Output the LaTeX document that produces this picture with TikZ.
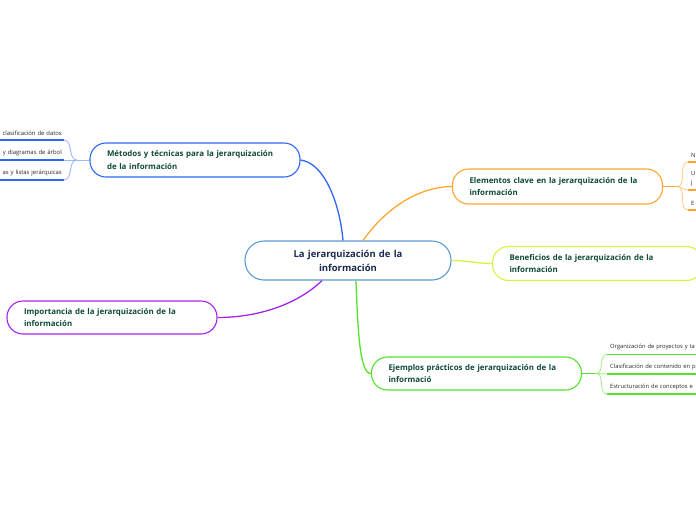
\documentclass[tikz,border=0pt]{standalone}
\usepackage{fontspec}
\setmainfont{Open Sans}
\definecolor{cblue}{HTML}{5B9BD5}
\definecolor{mblue}{HTML}{2F66F5}
\definecolor{lblue}{HTML}{9DB8FA}
\definecolor{corange}{HTML}{FFA630}
\definecolor{lorange}{HTML}{FFD08A}
\definecolor{cyell}{HTML}{D8F33C}
\definecolor{cpurp}{HTML}{A624EE}
\definecolor{cgreen}{HTML}{55E22A}
\definecolor{lgreen}{HTML}{A9F08C}
\definecolor{tgreen}{HTML}{0F4A3A}
\definecolor{tnavy}{HTML}{1B2A4E}
\tikzset{
  topic/.style={draw, rounded corners=16pt, fill=white, line width=1.1pt,
    font=\fontsize{7.9}{12.8}\selectfont\bfseries, text=tgreen, align=left,
    inner xsep=17pt, inner ysep=2pt, text width=176pt, minimum height=34pt},
  central/.style={draw=cblue, rounded corners=19pt, fill=white, line width=1.1pt,
    font=\fontsize{9.5}{14}\selectfont\bfseries, text=tnavy, align=center,
    inner xsep=10pt, text width=186pt, minimum height=39pt},
  leafl/.style={font=\fontsize{5.9}{8.5}\selectfont, text=black!85, align=right,
    inner xsep=2pt, inner ysep=4pt, text width=90pt},
  leafr/.style={font=\fontsize{5.8}{8.5}\selectfont, text=black!85, align=left,
    inner xsep=3pt, inner ysep=4pt, text width=100pt},
  conn/.style={line width=1.3pt},
  uline/.style={line width=1.6pt},
  twig/.style={line width=0.9pt},
}
\begin{document}
\begin{tikzpicture}[x=1pt,y=-1pt]
\useasboundingbox (0,0) rectangle (696,520);
\clip (0,0) rectangle (696,520);
% main nodes
\node[central] (c) at (348,260.5) {La jerarquización de la\\información};
\node[topic, draw=mblue] (m) at (195,160) {Métodos y técnicas para la jerarquización\\de la información};
\node[topic, draw=corange, minimum height=35pt] (e) at (557.5,186.5) {Elementos clave en la jerarquización de la\\información};
\node[topic, draw=cyell, anchor=west] (b) at (492,263.5) {Beneficios de la jerarquización de la\\información};
\node[topic, draw=cpurp, minimum height=33pt] (i) at (112,317.5) {Importancia de la jerarquización de la\\información};
\node[topic, draw=cgreen, minimum height=33pt] (j) at (476.5,373.5) {Ejemplos prácticos de jerarquización de la\\informació};
% main connectors
\draw[conn, mblue] (m.east) .. controls (325,163) and (340,205) .. ([xshift=-5pt]c.north);
\draw[conn, corange] ([xshift=15pt]c.north) .. controls (383,212) and (415,187) .. (e.west);
\draw[conn, cyell] (c.east) to[out=0,in=180] (b.west);
\draw[conn, cpurp] ([xshift=-26pt]c.south) .. controls (300,302) and (262,317.5) .. (i.east);
\draw[conn, cgreen] ([xshift=8pt]c.south) .. controls (358,335) and (360,373.5) .. (j.west);
% left leaves (Métodos)
\node[leafl, anchor=south east] (l1) at (64,140) {clasificación de datos};
\node[leafl, anchor=south east] (l2) at (64,160) {y diagramas de árbol};
\node[leafl, anchor=south east] (l3) at (64,180) {as y listas jerárquicas};
\coordinate (mb) at (77,160);
\draw[twig, lblue] (m.west) -- (mb);
\draw[twig, lblue] (mb) to[out=180,in=0] (l1.south east);
\draw[twig, lblue] (mb) -- (l2.south east);
\draw[twig, lblue] (mb) to[out=180,in=0] (l3.south east);
\foreach \n in {l1,l2,l3} \draw[uline, mblue] (\n.south west) -- (\n.south east);
% right leaves (Elementos)
\node[leafr, anchor=south west] (r1) at (688,162) {N};
\node[leafr, anchor=south west] (r2) at (688,190) {U\\j};
\node[leafr, anchor=south west] (r3) at (688,210) {E};
\coordinate (eb) at (677,186.5);
\draw[twig, corange] (e.east) -- (eb);
\draw[twig, lorange] (eb) to[out=0,in=180] (r1.south west);
\draw[twig, lorange] (eb) to[out=0,in=180] (r2.south west);
\draw[twig, lorange] (eb) to[out=0,in=180] (r3.south west);
\foreach \n in {r1,r2,r3} \draw[uline, corange] (\n.south west) -- (\n.south east);
% right leaves (Ejemplos)
\node[leafr, anchor=south west] (g1) at (607,354.5) {Organización de proyectos y ta};
\node[leafr, anchor=south west] (g2) at (607,374) {Clasificación de contenido en p};
\node[leafr, anchor=south west] (g3) at (607,394) {Estructuración de conceptos e};
\coordinate (jb) at (596,373.5);
\draw[twig, cgreen] (j.east) -- (jb);
\draw[twig, lgreen] (jb) to[out=0,in=180] (g1.south west);
\draw[twig, lgreen] (jb) -- (g2.south west);
\draw[twig, lgreen] (jb) to[out=0,in=180] (g3.south west);
\foreach \n in {g1,g2,g3} \draw[uline, cgreen] (\n.south west) -- (\n.south east);
\end{tikzpicture}
\end{document}
